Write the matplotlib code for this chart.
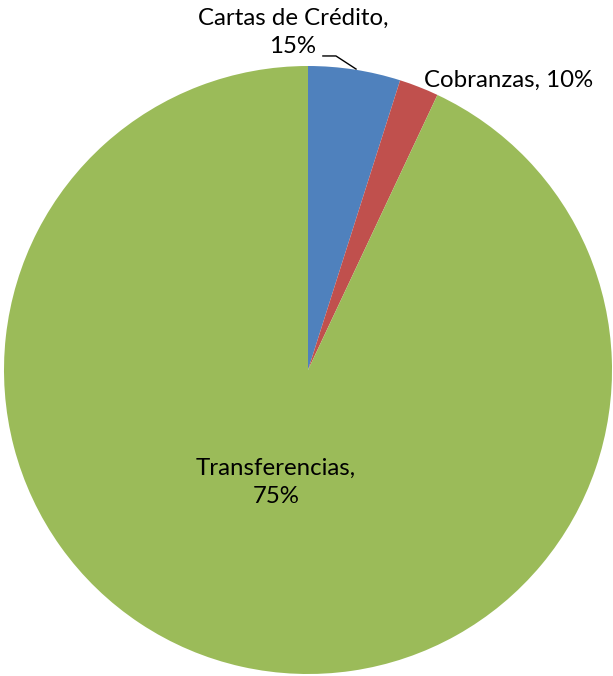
import matplotlib
matplotlib.use("Agg")
import matplotlib.pyplot as plt

plt.rcParams['font.family'] = ['Lato', 'DejaVu Sans']

# slice sizes as drawn, and the labels as printed on the chart
categorias = ["Cartas de Crédito", "Cobranzas", "Transferencias"]
valores = [4.9, 2.1, 93.0]
etiquetas = ["15%", "10%", "75%"]
colores = ["#4F81BD", "#C0504D", "#9BBB59"]

fig = plt.figure(figsize=(6.13, 6.76), dpi=100)
ax = fig.add_axes([4 / 613, 2 / 676, 608 / 613, 608 / 676])

wedges, _ = ax.pie(valores, colors=colores, startangle=90, counterclock=False,
                   radius=1.0, wedgeprops=dict(linewidth=0))
ax.set_xlim(-1, 1)
ax.set_ylim(-1, 1)
ax.set_aspect('auto')
ax.axis('off')

fs = 17.3
# Cartas de Crédito (outside, with leader line)
ax.text(-0.05, 1.11, categorias[0] + ",\n" + etiquetas[0], ha='center', va='center',
        fontsize=fs, linespacing=1.38)
ax.plot([0.049, 0.092, 0.158], [1.033, 1.033, 0.990], color='black', lw=1,
        clip_on=False)
# Cobranzas
ax.text(0.382, 0.954, categorias[1] + ", " + etiquetas[1], ha='left', va='center',
        fontsize=fs)
# Transferencias (inside)
ax.text(-0.105, -0.37, categorias[2] + ",\n" + etiquetas[2], ha='center', va='center',
        fontsize=fs, linespacing=1.38)

fig.savefig("out.png", dpi=100)
